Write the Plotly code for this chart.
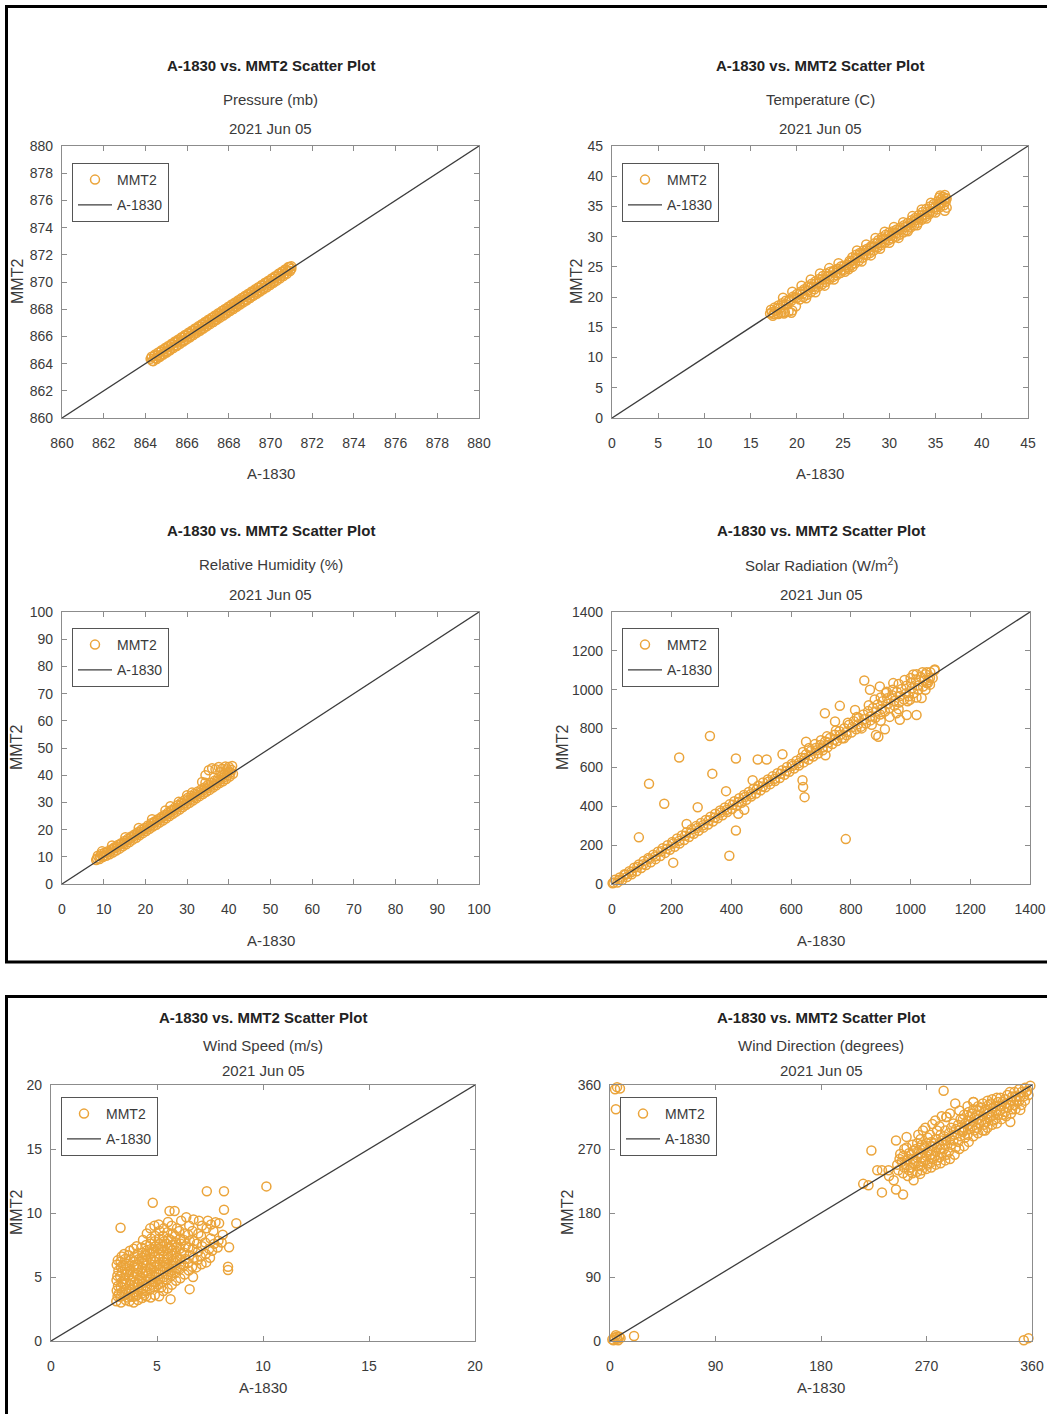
import plotly.graph_objects as go

W, H = 1047, 1414

# ---------------- DATA ----------------
titles_main = "A-1830 vs. MMT2 Scatter Plot"
date_label = "2021 Jun 05"
x_label = "A-1830"
y_label = "MMT2"
series_names = ["MMT2", "A-1830"]

subtitles = ["Pressure (mb)", "Temperature (C)", "Relative Humidity (%)",
             "Solar Radiation (W/m<sup>2</sup>)", "Wind Speed (m/s)", "Wind Direction (degrees)"]

axis_ranges = [[860, 880], [0, 45], [0, 100], [0, 1400], [0, 20], [0, 360]]
axis_dticks = [2, 5, 10, 200, 5, 90]

press_pts = [(864.25,864.35),(864.33,864.2),(864.42,864.55),(864.5,864.4),(864.58,864.62),(864.66,864.5),
 (864.75,864.88),(864.83,864.7),(864.92,865.05),(865.0,864.9),(865.08,865.2),(865.17,865.02),(865.25,865.38),
 (865.33,865.25),(865.42,865.55),(865.5,865.35),(865.58,865.7),(865.67,865.6),(865.75,865.9),(865.83,865.7),
 (865.92,866.05),(866.0,865.92),(866.08,866.2),(866.17,866.05),(866.25,866.4),(866.33,866.22),(866.42,866.55),
 (866.5,866.42),(866.58,866.7),(866.67,866.55),(866.75,866.88),(866.83,866.72),(866.92,867.05),(867.0,866.9),
 (867.08,867.22),(867.17,867.05),(867.25,867.4),(867.33,867.22),(867.42,867.52),(867.5,867.42),(867.58,867.7),
 (867.67,867.6),(867.75,867.9),(867.83,867.72),(867.92,868.05),(868.0,867.92),(868.08,868.22),(868.17,868.08),
 (868.25,868.38),(868.33,868.25),(868.42,868.55),(868.5,868.42),(868.58,868.72),(868.67,868.58),(868.75,868.9),
 (868.83,868.72),(868.92,869.05),(869.0,868.92),(869.08,869.2),(869.17,869.05),(869.25,869.38),(869.33,869.25),
 (869.42,869.55),(869.5,869.4),(869.58,869.72),(869.67,869.58),(869.75,869.9),(869.83,869.75),(869.92,870.05),
 (870.0,869.92),(870.08,870.25),(870.17,870.08),(870.25,870.38),(870.33,870.25),(870.42,870.6),(870.5,870.45),
 (870.58,870.75),(870.67,870.6),(870.75,870.9),(870.83,870.82),(870.92,871.1),(871.0,870.98),
 (864.3,864.5),(864.38,864.18),(864.46,864.66),(864.54,864.34),(864.62,864.82),(864.7,864.5),(864.78,864.98),
 (864.86,864.66),(864.94,865.14),(865.02,864.82),(865.1,865.3),(865.18,864.98),(865.26,865.46),(865.34,865.14),
 (865.42,865.62),(865.5,865.3),(865.58,865.78),(865.66,865.46),(865.74,865.94),(865.82,865.62),(865.9,866.1),
 (865.98,865.78),(866.06,866.26),(866.14,865.94),(866.22,866.42),(866.3,866.1),(866.38,866.58),(866.46,866.26),
 (866.54,866.74),(866.62,866.42),(866.7,866.9),(866.78,866.58),(866.86,867.06),(866.94,866.74),(867.02,867.22),
 (867.1,866.9),(867.18,867.38),(867.26,867.06),(867.34,867.54),(867.42,867.22),(867.5,867.7),(867.58,867.38),
 (867.66,867.86),(867.74,867.54),(867.82,868.02),(867.9,867.7),(867.98,868.18),(868.06,867.86),(868.14,868.34),
 (868.22,868.02),(868.3,868.5),(868.38,868.18),(868.46,868.66),(868.54,868.34),(868.62,868.82),(868.7,868.5),
 (868.78,868.98),(868.86,868.66),(868.94,869.14),(869.02,868.82),(869.1,869.3),(869.18,868.98),(869.26,869.46),
 (869.34,869.14),(869.42,869.62),(869.5,869.3),(869.58,869.78),(869.66,869.46),(869.74,869.94),(869.82,869.62),
 (869.9,870.1),(869.98,869.78),(870.06,870.26),(870.14,869.94),(870.22,870.42),(870.3,870.1),(870.38,870.6),
 (870.46,870.28),(870.54,870.76),(870.62,870.44),(870.7,870.92),(870.78,870.6),(870.86,871.1),(870.94,870.8),
 (871.0,871.15)]

temp_pts = [(17.1,17.3),(17.2,17.9),(17.5,17.2),(17.6,18.3),(17.9,17.3),(18.0,18.6),(18.3,17.4),(18.4,19.0),
 (18.7,17.5),(18.8,19.4),(19.1,17.6),(19.2,19.6),(19.5,17.8),(19.6,20.1),(19.9,18.5),(20.0,20.5),(20.3,19.6),
 (20.4,20.9),(20.7,20.0),(20.8,21.3),(21.1,20.4),(21.2,21.8),(21.5,20.8),(21.6,22.2),(21.9,21.3),(22.0,22.6),
 (22.3,21.7),(22.4,23.0),(22.7,22.1),(22.8,23.5),(23.1,22.5),(23.2,23.9),(23.5,22.9),(23.6,24.2),(23.9,23.3),
 (24.0,24.4),(24.3,23.6),(24.4,24.7),(24.7,24.0),(24.8,25.1),(25.1,24.5),(25.3,25.0),(25.5,24.9),(25.7,26.0),
 (25.9,25.3),(26.0,26.6),(26.3,25.6),(26.4,27.0),(26.7,26.0),(26.8,27.3),(27.1,26.5),(27.2,27.7),(27.5,26.9),
 (27.6,28.0),(27.9,27.3),(28.0,28.4),(28.3,27.7),(28.4,28.9),(28.7,28.2),(28.8,29.4),(29.1,28.6),(29.2,29.9),
 (29.5,29.0),(29.6,30.3),(29.9,29.4),(30.0,30.7),(30.3,29.7),(30.4,30.9),(30.7,30.0),(30.8,31.2),(31.1,30.3),
 (31.2,31.5),(31.5,30.7),(31.6,31.9),(31.9,31.1),(32.0,32.3),(32.3,31.5),(32.4,32.7),(32.7,31.9),(32.8,33.1),
 (33.1,32.3),(33.2,33.6),(33.5,32.8),(33.6,34.1),(33.9,33.3),(34.0,34.6),(34.3,33.7),(34.4,35.0),(34.7,34.1),
 (34.8,35.4),(35.1,34.5),(35.2,35.8),(35.5,34.9),(35.6,36.2),(35.9,35.2),(35.8,36.6),(36.1,35.8),(36.2,36.3),
 (36.2,34.8),(35.4,36.5),(36.0,36.9),
 (17.3,17.5),(17.6,17.7),(17.9,18.1),(18.2,18.2),(18.5,18.7),(18.8,18.8),(19.1,19.3),(19.4,19.4),(19.7,19.9),
 (20.0,19.9),(20.3,20.5),(20.6,20.5),(20.9,21.1),(21.2,21.1),(21.5,21.7),(21.8,21.7),(22.1,22.3),(22.4,22.3),
 (22.7,22.9),(23.0,22.9),(23.3,23.5),(23.6,23.5),(23.9,24.1),(24.2,24.0),(24.5,24.6),(24.8,24.5),(25.1,25.2),
 (25.4,25.3),(25.7,25.7),(26.0,26.0),(26.3,26.4),(26.6,26.5),(26.9,27.1),(27.2,27.1),(27.5,27.7),(27.8,27.7),
 (28.1,28.3),(28.4,28.3),(28.7,28.9),(29.0,28.9),(29.3,29.6),(29.6,29.6),(29.9,30.1),(30.2,30.1),(30.5,30.6),
 (30.8,30.6),(31.1,31.1),(31.4,31.2),(31.7,31.6),(32.0,31.8),(32.3,32.2),(32.6,32.4),(32.9,32.8),(33.2,33.0),
 (33.5,33.5),(33.8,33.6),(34.1,34.1),(34.4,34.2),(34.7,34.7),(35.0,34.9),(35.3,35.4),(35.6,35.5),(35.9,36.0),
 (36.1,36.4),(18.6,17.3),(19.4,17.4),(18.0,17.2),(17.4,16.9),(25.2,24.2),(25.6,24.6),(36.0,34.3),
 (18.5,19.9),(19.5,20.9),(20.5,21.9),(21.5,22.9),(22.5,23.9),(23.5,24.8),(24.5,25.6),(26.5,27.7),(27.5,28.7),
 (28.5,29.8),(29.5,30.8),(30.5,31.6),(31.5,32.4),(32.5,33.4),(33.5,34.5),(34.5,35.6),(35.5,36.8),(21.0,19.8),
 (22.0,20.8),(23.0,21.9),(24.0,22.9),(26.0,25.0),(27.0,25.9),(28.0,26.9),(29.0,28.0),(30.0,29.0),(31.0,29.8),
 (32.0,30.9),(33.0,31.9),(34.0,33.0),(35.0,34.0)]

rh_pts = [(8.2,8.8),(8.6,10.4),(9.0,9.2),(9.4,11.0),(9.8,9.9),(10.2,11.5),(10.6,10.4),(11.0,12.0),(11.4,10.9),
 (11.8,12.7),(12.2,11.6),(12.6,13.5),(13.0,12.3),(13.4,14.3),(13.8,13.0),(14.2,15.0),(14.6,13.9),(15.0,15.8),
 (15.4,14.6),(15.8,16.6),(16.2,15.4),(16.6,17.5),(17.0,16.3),(17.4,18.2),(17.8,17.0),(18.2,19.0),(18.6,17.9),
 (19.0,19.9),(19.4,18.7),(19.8,20.6),(20.2,19.5),(20.6,21.5),(21.0,20.3),(21.4,22.3),(21.8,21.1),(22.2,23.0),
 (22.6,21.8),(23.0,23.8),(23.4,22.6),(23.8,24.6),(24.2,23.3),(24.6,25.4),(25.0,24.2),(25.4,26.2),(25.8,25.0),
 (26.2,27.1),(26.6,25.8),(27.0,28.0),(27.4,26.6),(27.8,29.0),(28.2,27.4),(28.6,29.9),(29.0,28.3),(29.4,30.8),
 (29.8,29.1),(30.2,31.7),(30.6,29.9),(31.0,32.4),(31.4,30.7),(31.8,33.2),(32.2,31.5),(32.6,34.0),(33.0,32.3),
 (33.4,34.8),(33.8,33.1),(34.2,35.5),(34.6,33.9),(35.0,36.4),(35.4,34.6),(35.8,37.2),(36.2,35.5),(36.6,38.0),
 (37.0,36.3),(37.4,38.8),(37.8,37.1),(38.2,39.6),(38.6,37.8),(39.0,40.4),(39.4,38.6),(39.8,41.2),(40.2,39.5),
 (40.6,42.0),(41.0,40.5),(35.2,41.8),(36.0,42.6),(36.8,42.2),(37.6,43.0),(38.4,42.4),(39.2,43.2),(40.0,43.0),
 (40.8,43.4),(34.4,40.0),(33.6,37.5),
 (8.4,9.4),(9.2,10.2),(10.0,10.6),(10.8,11.5),(11.6,12.0),(12.4,13.0),(13.2,13.6),(14.0,14.5),(14.8,15.1),
 (15.6,16.0),(16.4,16.8),(17.2,17.6),(18.0,18.4),(18.8,19.2),(19.6,20.0),(20.4,20.8),(21.2,21.5),(22.0,22.4),
 (22.8,23.2),(23.6,24.0),(24.4,24.8),(25.2,25.5),(26.0,26.4),(26.8,27.2),(27.6,28.0),(28.4,28.9),(29.2,29.6),
 (30.0,30.5),(30.8,31.2),(31.6,32.0),(32.4,32.8),(33.2,33.6),(34.0,34.5),(34.8,35.2),(35.6,36.0),(36.4,36.8),
 (37.2,37.6),(38.0,38.4),(38.8,39.2),(39.6,40.0),(40.4,41.0),(9.6,12.0),(12.0,14.2),(15.2,17.2),(18.4,20.6),
 (21.6,23.8),(24.8,27.0),(28.0,30.2),(31.2,33.6),(34.4,37.2),(26.0,28.6),(30.0,32.6),(38.0,41.2),(39.6,42.2)]

solar_pts = [(2,4),(10,22),(18,8),(26,34),(34,20),(42,50),(50,36),(58,66),(66,50),(74,84),(82,66),(90,100),
 (98,82),(106,118),(114,98),(122,134),(130,112),(138,150),(146,128),(154,166),(162,144),(170,184),(178,160),
 (186,200),(194,176),(202,216),(210,192),(218,234),(226,208),(234,250),(242,226),(250,266),(258,242),(266,282),
 (274,258),(282,298),(290,274),(298,314),(306,290),(314,330),(322,306),(330,346),(338,322),(346,362),(354,338),
 (362,378),(370,354),(378,394),(386,370),(394,410),(402,386),(410,426),(418,402),(426,442),(434,418),(442,458),
 (450,434),(458,474),(466,450),(474,490),(482,466),(490,506),(498,482),(506,522),(514,498),(522,538),(530,514),
 (538,554),(546,530),(554,570),(562,546),(570,586),(578,562),(586,602),(594,578),(602,618),(610,594),(618,634),
 (626,610),(634,650),(642,626),(650,668),(658,640),(666,684),(674,656),(682,700),(690,672),(698,716),(706,688),
 (714,734),(722,704),(730,752),(738,720),(746,768),(754,736),(762,786),(770,750),(778,802),(786,766),(794,820),
 (802,780),(810,838),(818,796),(826,856),(834,810),(842,872),(850,826),(858,890),(866,842),(874,906),(882,856),
 (890,924),(898,872),(906,940),(914,888),(922,956),(930,904),(938,972),(946,918),(954,988),(962,934),(970,1004),
 (978,950),(986,1020),(994,966),(1002,1036),(1010,982),(1018,1052),(1026,1000),(1034,1066),(1042,1016),
 (1050,1080),(1058,1034),(1066,1090),(1074,1060),(1080,1100),
 (5,8),(25,22),(45,48),(65,62),(85,88),(105,102),(125,128),(145,142),(165,168),(185,182),(205,208),(225,222),
 (245,248),(265,262),(285,288),(305,302),(325,328),(345,342),(365,368),(385,382),(405,408),(425,422),(445,448),
 (465,462),(485,488),(505,502),(525,528),(545,542),(565,568),(585,582),(605,608),(625,622),(645,648),(665,662),
 (685,688),(705,702),(725,728),(745,742),(765,768),(785,782),(805,808),(825,822),(845,848),(865,862),(885,888),
 (905,902),(925,928),(945,942),(965,968),(985,982),(1005,1008),(1025,1022),(1045,1048),(1065,1062),
 (860,920),(880,950),(900,960),(920,990),(940,1000),(960,1030),(980,1050),(1000,1060),(1020,1080),(1040,1090),
 (870,820),(900,840),(930,860),(960,900),(990,940),(1020,960),(1050,1000),(1060,1050),(680,720),(700,740),
 (660,700),(640,680),(720,760),(750,790),(790,830),(820,860),
 (90,240),(124,516),(175,413),(225,651),(250,309),(287,395),(328,762),(336,568),(382,478),(393,145),(415,275),
 (415,646),(423,361),(443,382),(471,534),(488,641),(518,641),(571,668),(638,534),(640,499),(645,447),(650,732),
 (713,879),(715,663),(747,836),(763,917),(777,750),(783,231),(814,896),(836,801),(845,1047),(864,1000),
 (884,767),(892,758),(914,796),(953,879),(964,845),(987,870),(942,1034),(1009,1078),(1020,870),(1037,957),
 (1054,1034),(1065,1026),(998,948),(897,1017),(917,983),(1054,1090),(1081,1104),(205,110)]

ws_pts = [(3.08,3.1),(3.14,3.5),(3.1,3.95),(3.16,4.3),(3.09,4.75),(3.13,5.1),(3.18,5.5),(3.1,5.95),(3.15,6.3),
 (3.3,3.0),(3.27,3.45),(3.34,3.8),(3.29,4.25),(3.32,4.6),(3.26,5.05),(3.35,5.4),(3.3,5.8),(3.28,6.2),(3.33,6.6),(3.28,8.85),
 (3.52,3.2),(3.47,3.6),(3.55,4.05),(3.5,4.4),(3.46,4.85),(3.54,5.2),(3.49,5.6),(3.56,6.05),(3.5,6.4),(3.45,6.8),
 (3.7,3.1),(3.74,3.5),(3.67,3.9),(3.72,4.35),(3.76,4.7),(3.68,5.15),(3.73,5.5),(3.7,5.9),(3.75,6.3),(3.66,6.7),(3.72,7.05),
 (3.9,3.0),(3.86,3.45),(3.93,3.8),(3.88,4.2),(3.95,4.6),(3.9,5.05),(3.85,5.4),(3.92,5.85),(3.88,6.2),(3.94,6.6),(3.9,7.2),
 (4.1,3.2),(4.06,3.6),(4.13,4.0),(4.08,4.45),(4.14,4.8),(4.05,5.2),(4.11,5.6),(4.07,6.0),(4.15,6.4),(4.1,6.85),(4.04,7.4),
 (4.3,3.35),(4.27,3.7),(4.34,4.1),(4.29,4.5),(4.25,4.9),(4.33,5.3),(4.3,5.7),(4.36,6.1),(4.28,6.5),(4.32,6.9),(4.26,7.3),(4.34,7.9),
 (4.5,3.5),(4.46,3.9),(4.53,4.3),(4.48,4.7),(4.55,5.1),(4.47,5.5),(4.52,5.9),(4.5,6.3),(4.45,6.7),(4.54,7.1),(4.49,7.5),(4.52,8.4),
 (4.7,3.4),(4.66,4.0),(4.73,4.4),(4.69,4.8),(4.75,5.2),(4.67,5.6),(4.72,6.0),(4.7,6.4),(4.65,6.8),(4.74,7.2),(4.69,7.6),(4.72,8.0),(4.68,8.8),
 (4.9,3.6),(4.86,4.2),(4.93,4.6),(4.88,5.0),(4.95,5.4),(4.87,5.8),(4.92,6.2),(4.9,6.6),(4.85,7.0),(4.94,7.4),(4.89,7.8),(4.92,8.2),(4.88,9.0),(4.8,10.8),
 (5.1,3.5),(5.06,4.4),(5.13,4.8),(5.08,5.2),(5.15,5.6),(5.07,6.0),(5.12,6.4),(5.1,6.8),(5.05,7.2),(5.14,7.6),(5.09,8.0),(5.12,8.6),(5.08,9.1),
 (5.3,3.9),(5.26,4.6),(5.33,5.0),(5.28,5.4),(5.35,5.8),(5.27,6.2),(5.32,6.6),(5.3,7.0),(5.25,7.4),(5.34,7.8),(5.29,8.2),(5.32,8.8),
 (5.5,4.1),(5.46,4.8),(5.53,5.2),(5.48,5.6),(5.55,6.0),(5.47,6.4),(5.52,6.8),(5.5,7.2),(5.45,7.6),(5.54,8.0),(5.49,8.5),(5.52,9.3),
 (5.64,3.27),(5.7,4.4),(5.66,5.1),(5.73,5.5),(5.68,5.9),(5.75,6.3),(5.67,6.7),(5.72,7.1),(5.7,7.5),(5.65,7.9),(5.74,8.4),(5.69,9.0),(5.59,10.15),
 (5.9,4.7),(5.86,5.3),(5.93,5.7),(5.88,6.1),(5.95,6.5),(5.87,6.9),(5.92,7.3),(5.9,7.7),(5.85,8.2),(5.94,8.8),(5.83,10.15),
 (6.1,4.9),(6.06,5.6),(6.13,6.0),(6.08,6.4),(6.15,6.8),(6.07,7.2),(6.12,7.6),(6.1,8.0),(6.05,8.6),(6.14,9.4),
 (6.3,5.2),(6.26,5.9),(6.33,6.4),(6.28,6.9),(6.35,7.4),(6.27,7.9),(6.32,8.4),(6.38,9.67),
 (6.54,4.05),(6.5,5.5),(6.46,6.1),(6.53,6.7),(6.48,7.3),(6.55,7.8),(6.47,8.3),(6.52,9.0),
 (6.7,5.0),(6.66,5.8),(6.73,6.5),(6.68,7.2),(6.75,7.8),(6.67,8.6),(6.72,9.5),
 (6.85,5.75),(6.9,6.3),(6.94,7.0),(6.88,7.6),(6.95,8.4),(6.98,9.4),
 (7.1,6.0),(7.06,6.6),(7.13,7.4),(7.08,8.2),(7.12,9.0),
 (7.32,6.14),(7.3,6.8),(7.27,7.7),(7.34,8.8),(7.4,9.4),(7.35,11.7),
 (7.5,6.5),(7.46,7.2),(7.53,8.0),(7.55,9.1),
 (7.6,7.05),(7.7,7.6),(7.66,8.6),(7.76,9.28),
 (7.9,7.84),(7.86,7.3),(7.93,9.2),
 (8.16,10.25),(8.16,11.7),(8.1,8.3),(8.05,7.7),
 (8.35,5.54),(8.35,5.8),(8.4,7.32),(8.74,9.2),(10.16,12.08),
 (3.2,3.7),(3.4,4.5),(3.6,5.4),(3.8,4.0),(4.0,5.7),(4.2,4.7),(4.4,6.3),(4.6,5.3),(4.8,6.9),(5.0,5.9),
 (5.2,7.1),(5.4,6.1),(5.6,7.3),(3.4,5.9),(3.6,3.4),(4.0,3.5),(4.4,3.6),(4.8,4.6),(5.2,4.2),(5.6,5.4)]

wd_pts = [(2,2),(4,5),(6,3),(8,6),(5,8),(3,1),(7,1),(9,4),(6,6),(20.5,7),
 (4.3,354),(6,357),(8.5,355),(5,326),(353,1),(357,4),
 (216,221),(220.5,219),(223,268),(228,240),(232,240),(232,209),(237.6,240),(238,232),(242,226),(244,213),
 (244,282),(247.6,263),(250,206),(253,287),(253,254),(259,226),(264.6,235),
 (246,240),(245,248),(247,256),
 (250,236),(251,244),(249,252),(250,260),(251,270),
 (254,232),(255,240),(253,248),(254,256),(255,264),(253,272),
 (258,236),(257,244),(259,250),(258,256),(257,262),(259,268),(258,276),
 (262,238),(263,246),(261,252),(262,258),(263,264),(261,270),(262,278),(263,290),
 (266,240),(265,246),(267,252),(266,258),(265,264),(267,270),(266,276),(265,284),(267,296),
 (270,242),(271,248),(269,254),(270,260),(271,266),(269,272),(270,278),(271,286),(269,300),
 (274,244),(273,250),(275,256),(274,262),(273,268),(275,274),(274,280),(273,290),(275,305),
 (278,248),(279,254),(277,260),(278,266),(279,272),(277,278),(278,284),(279,296),(277.5,310),
 (282,250),(281,258),(283,264),(282,270),(281,276),(283,282),(282,290),(281,302),(283,316),
 (286,254),(287,262),(285,270),(286,276),(287,282),(285,288),(286,296),(287,315),
 (290,256),(289,266),(291,276),(290,284),(289,292),(291,300),(290,320),
 (294,262),(295,272),(293,282),(294,290),(295,298),(293,306),(294.5,334),
 (298,270),(297,280),(299,288),(298,296),(297,304),(299,312),(298,324),
 (302,274),(303,286),(301,294),(302,300),(303,306),(301,312),(302,318),(301.6,296),
 (306,280),(305,290),(307,298),(306,304),(305,310),(307,316),(306,322),(305,330),
 (310,288),(311,296),(309,302),(310,308),(311,314),(309,320),(310,326),(310,336),
 (314,292),(313,300),(315,306),(314,312),(313,318),(315,324),(314,330),
 (318,296),(319,304),(317,310),(318,316),(319,322),(317,328),(318,334),
 (322,300),(321,308),(323,314),(322,320),(321,326),(323,332),(322,338),(320,296),
 (326,304),(327,310),(325,316),(326,322),(327,328),(325,334),(326,340),
 (330,306),(329,312),(331,318),(330,324),(329,330),(331,336),(330,342),
 (334,312),(335,318),(333,324),(334,330),(335,336),(333,342),
 (338,316),(337,322),(339,328),(338,334),(337,340),(339,346),
 (342,320),(343,326),(341,332),(342,338),(343,344),(341,350),(341.5,308),
 (346,326),(345,332),(347,338),(346,344),(345,350),
 (350,325),(351,332),(349,338),(350,344),(351,350),(349,354),
 (354,338),(353,344),(355,350),(354,356),
 (357,346),(356,352),(358.6,359),(284.6,352),(310,336),(287,315)]

all_pts = [press_pts, temp_pts, rh_pts, solar_pts, ws_pts, wd_pts]

# ---------------- LAYOUT (pixel geometry) ----------------
boxes = [(62, 479, 146, 418), (612, 1028, 146, 418),
         (62, 479, 612, 884), (612, 1030, 612, 884),
         (51, 475, 1085, 1341), (610, 1032, 1085, 1341)]
title_rows = [(66, 99, 128), (66, 99, 128), (531, 564, 594), (531, 564, 594),
              (1017, 1045, 1070), (1017, 1045, 1070)]
xtitle_y = [474, 474, 940, 940, 1387, 1387]
ytitle_x = [17, 576, 17, 563, 16, 567]
legend_pos = [(72, 163), (622, 163), (72, 628), (622, 628), (61, 1097), (620, 1097)]

FONT = "Liberation Sans, Arial, Helvetica, sans-serif"
ORANGE = "#EBA43A"
LINEC = "#3c3c3c"
AXC = "#8c8c8c"
TXT = "#3a3a3a"


def px(x):
    return x / W


def py(y):
    return 1 - y / H


fig = go.Figure()
layout = dict(template="none", width=W, height=H, margin=dict(l=0, r=0, t=0, b=0, pad=0),
              autosize=False, paper_bgcolor="white", plot_bgcolor="white", showlegend=True,
              font=dict(family=FONT, color=TXT))
annotations = []

for i in range(6):
    n = i + 1
    sfx = "" if n == 1 else str(n)
    lg = "legend" if n == 1 else f"legend{n}"
    pts = all_pts[i]
    xs = [p[0] for p in pts]
    ys = [p[1] for p in pts]
    rng = axis_ranges[i]
    fig.add_trace(go.Scatter(x=xs, y=ys, mode="markers", name=series_names[0],
                             legendgroup="m%d" % n,
                             marker=dict(symbol="circle-open", size=9, color=ORANGE,
                                         line=dict(width=1.5, color=ORANGE)),
                             xaxis="x" + sfx, yaxis="y" + sfx, legend=lg, cliponaxis=False,
                             hoverinfo="skip"))
    fig.add_trace(go.Scatter(x=rng, y=rng, mode="lines", name=series_names[1],
                             legendgroup="l%d" % n,
                             line=dict(color=LINEC, width=1.3),
                             xaxis="x" + sfx, yaxis="y" + sfx, legend=lg, hoverinfo="skip"))
    l, r, t, b = boxes[i]
    common = dict(range=rng, dtick=axis_dticks[i], tick0=rng[0], ticks="inside", ticklen=5,
                  tickcolor=AXC, tickwidth=1, showline=True, linecolor=AXC, linewidth=1.2,
                  mirror="ticks", showgrid=False, zeroline=False, automargin=False,
                  ticklabeloverflow="allow",
                  tickfont=dict(family=FONT, size=14, color=TXT), fixedrange=True)
    layout["xaxis" + sfx] = dict(common, domain=[px(l), px(r)], anchor="y" + sfx,
                                 ticklabelstandoff=12)
    layout["yaxis" + sfx] = dict(common, domain=[py(b), py(t)], anchor="x" + sfx,
                                 ticklabelstandoff=5)
    lx, ly = legend_pos[i]
    layout[lg] = dict(x=px(lx), y=py(ly), xanchor="left", yanchor="top",
                      bgcolor="white", bordercolor="#555555", borderwidth=1,
                      font=dict(family=FONT, size=14, color=TXT),
                      itemwidth=34, tracegroupgap=4, traceorder="grouped")
    cx = (l + r) / 2
    t1, t2, t3 = title_rows[i]
    fs = 15
    base = dict(xref="paper", yref="paper", showarrow=False, xanchor="center", yanchor="middle")
    annotations.append(dict(base, text="<b>" + titles_main + "</b>", x=px(cx), y=py(t1),
                            font=dict(family=FONT, size=fs, color="#222222")))
    annotations.append(dict(base, text=subtitles[i], x=px(cx), y=py(t2),
                            font=dict(family=FONT, size=fs, color=TXT)))
    annotations.append(dict(base, text=date_label, x=px(cx), y=py(t3),
                            font=dict(family=FONT, size=fs, color=TXT)))
    annotations.append(dict(base, text=x_label, x=px(cx), y=py(xtitle_y[i]),
                            font=dict(family=FONT, size=15, color=TXT)))
    annotations.append(dict(base, text=y_label, x=px(ytitle_x[i]), y=py((t + b) / 2),
                            textangle=-90, font=dict(family=FONT, size=16, color=TXT)))

layout["annotations"] = annotations
layout["shapes"] = [
    dict(type="rect", xref="paper", yref="paper", x0=px(6.5), x1=1.02, y0=py(962), y1=py(6.5),
         line=dict(color="black", width=3)),
    dict(type="rect", xref="paper", yref="paper", x0=px(6.5), x1=1.02, y0=-0.02, y1=py(996.5),
         line=dict(color="black", width=3)),
]
fig.update_layout(**layout)
fig.write_html("out.html")
